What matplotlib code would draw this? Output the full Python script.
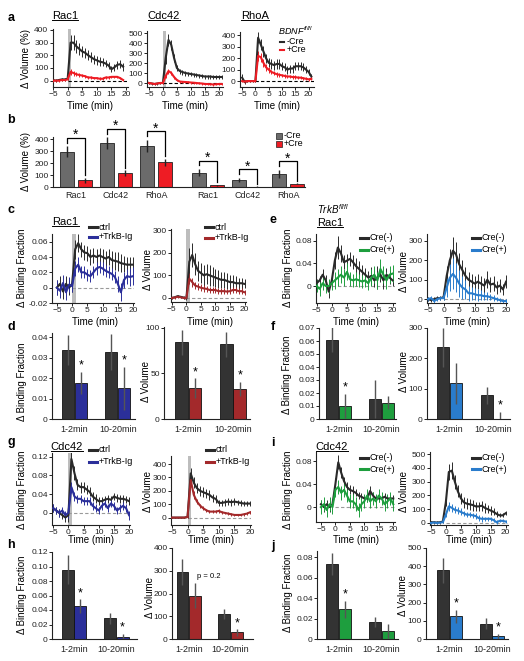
import matplotlib
matplotlib.use('Agg')
import matplotlib.pyplot as plt
from matplotlib.lines import Line2D
from matplotlib.patches import Rectangle
import numpy as np

plt.rcParams['font.family'] = ['Liberation Sans', 'DejaVu Sans']
plt.rcParams['mathtext.fontset'] = 'custom'
plt.rcParams['mathtext.it'] = 'Liberation Sans:italic'
plt.rcParams['mathtext.rm'] = 'Liberation Sans'

# ---------------- data ----------------
t_a1 = list(range(-5, 20))
t_a2 = list(range(-5, 22))
t_all = list(range(-5, 21))

# panel a (BDNF fl/fl, -Cre / +Cre)
a_rac1_neg = [5, 0, 5, 10, 10, 15, 300, 300, 270, 250, 230, 220, 200, 185, 170, 160, 150, 145, 135, 120, 90, 105, 125, 130, 110]
a_rac1_neg_err = [10, 10, 10, 10, 10, 10, 60, 60, 50, 45, 45, 40, 40, 40, 35, 35, 35, 30, 30, 30, 25, 30, 30, 30, 30]
a_rac1_pos = [0, 0, 0, 5, 5, 10, 70, 60, 50, 45, 40, 35, 25, 25, 20, 20, 15, 15, 25, 25, 30, 30, 30, 20, 5]
a_rac1_pos_err = [8, 8, 8, 8, 8, 8, 25, 20, 15, 15, 12, 12, 12, 10, 10, 10, 10, 10, 10, 10, 10, 10, 10, 10, 10]

a_cdc42_neg = [0, -5, -10, -5, 0, 0, 250, 430, 380, 250, 150, 120, 110, 100, 95, 90, 85, 80, 75, 70, 65, 65, 65, 60, 60, 60, 60]
a_cdc42_neg_err = [10, 10, 10, 10, 10, 10, 60, 60, 50, 40, 30, 25, 25, 25, 20, 20, 20, 20, 20, 20, 20, 20, 20, 20, 20, 20, 20]
a_cdc42_pos = [0, -5, -10, -5, 0, 0, 70, 120, 100, 60, 30, 15, 12, 10, 8, 5, 3, 0, -3, -5, -10, -10, -12, -15, -12, -10, -10]
a_cdc42_pos_err = [8, 8, 8, 8, 8, 8, 20, 25, 20, 15, 12, 10, 10, 10, 10, 10, 10, 10, 10, 10, 10, 10, 10, 10, 10, 10, 10]

a_rhoa_neg = [30, -10, 0, 0, 0, 0, 380, 320, 260, 200, 160, 150, 140, 150, 150, 130, 120, 100, 110, 110, 130, 130, 130, 120, 100, 80, 40]
a_rhoa_neg_err = [30, 15, 10, 10, 10, 10, 50, 50, 45, 40, 40, 40, 40, 40, 40, 35, 35, 35, 35, 35, 35, 35, 35, 35, 30, 30, 20]
a_rhoa_pos = [0, -5, 0, 0, 0, 0, 220, 210, 160, 120, 100, 80, 70, 60, 55, 50, 45, 40, 40, 35, 35, 30, 30, 25, 20, 15, 20]
a_rhoa_pos_err = [10, 10, 10, 10, 10, 10, 40, 40, 35, 30, 25, 20, 20, 20, 15, 15, 15, 15, 15, 15, 15, 15, 15, 15, 15, 15, 15]

# panel b
b_labels = ['Rac1', 'Cdc42', 'RhoA', 'Rac1', 'Cdc42', 'RhoA']
b_neg = [295, 365, 345, 120, 60, 110]
b_neg_err = [45, 50, 50, 30, 18, 35]
b_pos = [56, 113, 206, 14, 3, 28]
b_pos_err = [20, 25, 30, 5, 3, 6]

# panel c (Rac1, ctrl / +TrkB-Ig)
c_bind_ctrl = [0, 0.005, -0.005, 0.005, 0, 0.005, 0.05, 0.058, 0.05, 0.046, 0.045, 0.04, 0.042, 0.04, 0.042, 0.04, 0.038, 0.04, 0.036, 0.035, 0.034, 0.032, 0.031, 0.03, 0.03, 0.03]
c_bind_ctrl_err = [0.01, 0.01, 0.01, 0.01, 0.01, 0.01, 0.012, 0.012, 0.01, 0.01, 0.01, 0.01, 0.01, 0.01, 0.01, 0.01, 0.01, 0.01, 0.012, 0.012, 0.012, 0.012, 0.01, 0.01, 0.01, 0.01]
c_bind_trkb = [0, -0.004, 0.006, -0.006, 0.004, 0.002, 0.025, 0.03, 0.02, 0.02, 0.017, 0.015, 0.02, 0.025, 0.027, 0.025, 0.022, 0.02, 0.018, 0.014, 0.005, -0.006, 0.01, 0.015, 0.014, 0.015]
c_bind_trkb_err = [0.01, 0.01, 0.01, 0.01, 0.01, 0.008, 0.01, 0.01, 0.008, 0.008, 0.008, 0.008, 0.008, 0.008, 0.008, 0.008, 0.008, 0.008, 0.008, 0.008, 0.01, 0.012, 0.01, 0.01, 0.012, 0.012]
c_vol_ctrl = [0, 3, 8, 5, 2, -3, 160, 190, 150, 120, 110, 100, 105, 100, 95, 90, 85, 80, 80, 75, 70, 70, 65, 65, 65, 62]
c_vol_ctrl_err = [5, 5, 5, 5, 5, 5, 60, 55, 50, 45, 45, 45, 45, 45, 40, 40, 40, 35, 35, 35, 30, 30, 30, 25, 25, 20]
c_vol_trkb = [0, 2, 5, 3, 0, 0, 85, 70, 55, 50, 45, 42, 40, 35, 35, 35, 30, 30, 30, 28, 30, 35, 35, 30, 30, 25]
c_vol_trkb_err = [5, 5, 5, 5, 5, 5, 25, 20, 15, 15, 15, 15, 12, 12, 12, 12, 12, 12, 12, 12, 12, 12, 12, 12, 12, 12]

# panel d
groups = ['1-2min', '10-20min']
d_bind_ctrl = [0.0336, 0.0326]
d_bind_ctrl_err = [0.0072, 0.0087]
d_bind_trkb = [0.0175, 0.015]
d_bind_trkb_err = [0.0055, 0.0105]
d_bind_sig = [True, True]
d_vol_ctrl = [84, 82]
d_vol_ctrl_err = [14, 14]
d_vol_trkb = [34, 33]
d_vol_trkb_err = [11, 8]
d_vol_sig = [True, True]

# panel e (TrkB fl/fl, Rac1, Cre(-) / Cre(+))
e_bind_neg = [0.005, 0.01, 0.02, 0.01, -0.01, 0.01, 0.045, 0.068, 0.058, 0.042, 0.045, 0.048, 0.042, 0.035, 0.03, 0.025, 0.02, 0.015, 0.018, 0.01, 0.015, 0.02, 0.01, 0.02, 0.015, 0.01]
e_bind_neg_err = [0.008, 0.008, 0.01, 0.01, 0.012, 0.01, 0.015, 0.02, 0.015, 0.012, 0.012, 0.012, 0.012, 0.015, 0.015, 0.012, 0.012, 0.012, 0.015, 0.012, 0.02, 0.012, 0.015, 0.012, 0.012, 0.01]
e_bind_pos = [0, -0.005, 0.005, 0, 0, 0.005, 0.01, 0.015, 0.02, 0.015, 0.025, 0.012, 0.01, 0.012, 0.01, 0.008, 0.01, 0.005, 0.015, 0.02, 0.01, 0.03, 0.02, 0.01, 0.02, 0.022]
e_bind_pos_err = [0.01, 0.012, 0.012, 0.012, 0.012, 0.012, 0.015, 0.015, 0.015, 0.015, 0.015, 0.012, 0.012, 0.012, 0.012, 0.012, 0.012, 0.012, 0.015, 0.015, 0.015, 0.018, 0.015, 0.015, 0.015, 0.015]
e_vol_neg = [0, -5, 0, 5, 5, 10, 120, 200, 250, 230, 180, 150, 120, 100, 90, 80, 90, 80, 70, 100, 75, 80, 60, 70, 50, 90]
e_vol_neg_err = [10, 10, 10, 10, 10, 15, 50, 60, 70, 65, 60, 50, 45, 40, 40, 40, 40, 40, 40, 45, 40, 40, 35, 35, 30, 35]
e_vol_pos = [0, 5, -10, 0, 5, 5, 60, 110, 130, 110, 80, 60, 50, 30, 30, 25, 20, 20, 15, 15, 10, 5, 0, -5, -10, -10]
e_vol_pos_err = [10, 10, 10, 10, 10, 10, 50, 70, 80, 75, 70, 60, 50, 40, 35, 30, 30, 25, 20, 20, 15, 15, 10, 10, 10, 10]

# panel f
f_bind_neg = [0.061, 0.0152]
f_bind_neg_err = [0.0095, 0.0148]
f_bind_pos = [0.0102, 0.0126]
f_bind_pos_err = [0.0092, 0.0052]
f_bind_sig = [True, False]
f_vol_neg = [236, 78]
f_vol_neg_err = [63, 29]
f_vol_pos = [118, 0]
f_vol_pos_err = [68, 24]
f_vol_sig = [False, True]

# panel g (Cdc42, ctrl / +TrkB-Ig)
g_bind_ctrl = [0.01, 0.005, 0.0, -0.005, -0.01, -0.005, 0.115, 0.085, 0.06, 0.055, 0.055, 0.05, 0.045, 0.035, 0.03, 0.025, 0.025, 0.028, 0.03, 0.028, 0.035, 0.032, 0.03, 0.03, 0.028, 0.025]
g_bind_ctrl_err = [0.008, 0.008, 0.008, 0.008, 0.01, 0.015, 0.02, 0.015, 0.012, 0.012, 0.01, 0.01, 0.01, 0.01, 0.01, 0.008, 0.008, 0.008, 0.008, 0.008, 0.008, 0.008, 0.008, 0.008, 0.008, 0.008]
g_bind_trkb = [0.01, 0.005, 0.0, 0.005, -0.005, 0.0, 0.055, 0.035, 0.03, 0.03, 0.025, 0.025, 0.025, 0.015, 0.01, 0.005, 0.015, 0.02, 0.01, 0.02, 0.015, 0.005, 0.01, 0.015, 0.01, -0.005]
g_bind_trkb_err = [0.008, 0.008, 0.008, 0.008, 0.008, 0.01, 0.012, 0.01, 0.008, 0.008, 0.008, 0.008, 0.008, 0.008, 0.008, 0.008, 0.008, 0.008, 0.008, 0.008, 0.008, 0.008, 0.008, 0.008, 0.008, 0.01]
g_vol_ctrl = [0, 0, 0, 0, 0, 5, 330, 260, 220, 200, 190, 180, 170, 150, 140, 110, 110, 115, 120, 115, 120, 115, 110, 105, 105, 105]
g_vol_ctrl_err = [5, 5, 5, 5, 5, 10, 40, 40, 35, 35, 35, 35, 35, 30, 30, 25, 25, 25, 25, 25, 25, 20, 20, 20, 20, 20]
g_vol_trkb = [0, 0, 0, 0, 0, 5, 280, 170, 120, 90, 70, 55, 45, 45, 45, 50, 40, 35, 30, 25, 20, 20, 20, 25, 30, 40]
g_vol_trkb_err = [5, 5, 5, 5, 5, 10, 40, 30, 20, 15, 15, 12, 12, 12, 12, 12, 12, 10, 10, 10, 10, 10, 10, 10, 10, 10]

# panel h
h_bind_ctrl = [0.0957, 0.0283]
h_bind_ctrl_err = [0.0195, 0.0075]
h_bind_trkb = [0.045, 0.003]
h_bind_trkb_err = [0.0095, 0.004]
h_bind_sig = [True, True]
h_vol_ctrl = [294, 109]
h_vol_ctrl_err = [56, 23]
h_vol_trkb = [190, 29]
h_vol_trkb_err = [54, 15]
h_vol_sig = [False, True]

# panel i (Cdc42, Cre(-) / Cre(+))
i_bind_neg = [0.005, 0.0, 0.005, 0.0, 0.005, 0.04, 0.078, 0.06, 0.045, 0.035, 0.03, 0.028, 0.025, 0.02, 0.018, 0.015, 0.015, 0.028, 0.02, 0.015, 0.015, 0.015, 0.018, 0.015, 0.015, 0.015]
i_bind_neg_err = [0.008, 0.008, 0.008, 0.008, 0.008, 0.01, 0.012, 0.01, 0.008, 0.008, 0.008, 0.008, 0.006, 0.006, 0.006, 0.006, 0.006, 0.008, 0.006, 0.006, 0.006, 0.006, 0.006, 0.006, 0.006, 0.006]
i_bind_pos = [0.0, 0.005, -0.005, 0.005, 0.0, 0.03, 0.035, 0.025, 0.03, 0.02, 0.01, 0.01, 0.005, -0.005, 0.005, 0.01, 0.02, 0.01, 0.015, 0.01, 0.02, 0.015, 0.005, 0.01, 0.015, 0.005]
i_bind_pos_err = [0.012, 0.012, 0.012, 0.012, 0.012, 0.012, 0.012, 0.012, 0.012, 0.012, 0.012, 0.012, 0.012, 0.012, 0.012, 0.012, 0.012, 0.012, 0.012, 0.012, 0.012, 0.012, 0.012, 0.012, 0.012, 0.012]
i_vol_neg = [5, 5, 3, 5, 10, 150, 370, 380, 300, 230, 180, 150, 140, 135, 130, 120, 120, 125, 110, 100, 90, 80, 65, 55, 55, 70]
i_vol_neg_err = [10, 10, 10, 10, 10, 30, 60, 60, 50, 45, 40, 40, 40, 40, 40, 35, 35, 35, 35, 30, 30, 25, 20, 15, 15, 15]
i_vol_pos = [0, 3, 0, 2, 5, 60, 120, 110, 95, 90, 80, 70, 60, 60, 55, 50, 35, 30, 30, 30, 30, 20, 5, 15, 15, 10]
i_vol_pos_err = [5, 5, 5, 5, 5, 20, 30, 30, 25, 25, 25, 20, 20, 20, 20, 20, 20, 20, 15, 15, 15, 15, 15, 10, 10, 10]

# panel j
j_bind_neg = [0.0731, 0.0164]
j_bind_neg_err = [0.0108, 0.0049]
j_bind_pos = [0.029, 0.0075]
j_bind_pos_err = [0.0085, 0.0075]
j_bind_sig = [True, False]
j_vol_neg = [378, 83]
j_vol_neg_err = [68, 30]
j_vol_pos = [125, 15]
j_vol_pos_err = [35, 15]
j_vol_sig = [True, True]

# ---------------- colours ----------------
BLACK = '#2a2a2a'
RED = '#ee1c24'
NAVY = '#2b2f9a'
DARKRED = '#a3292b'
GREEN = '#1e9e3e'
BLUE = '#2a7ccc'
BAR_BLACK = '#333333'

W, H = 524, 661
fig = plt.figure(figsize=(W / 100, H / 100), dpi=100)


def px_axes(l, t, r, b):
    return fig.add_axes([l / W, 1 - b / H, (r - l) / W, (b - t) / H])


def ftext(x, y, s, **kw):
    kw.setdefault('ha', 'center')
    kw.setdefault('va', 'center')
    return fig.text(x / W, 1 - y / H, s, **kw)


def fline(x0, x1, y, color, lw=2.2):
    fig.add_artist(Line2D([x0 / W, x1 / W], [1 - y / H, 1 - y / H],
                          transform=fig.transFigure, color=color, lw=lw))


def style(ax):
    for s in ['top', 'right']:
        ax.spines[s].set_visible(False)
    for s in ['left', 'bottom']:
        ax.spines[s].set_linewidth(0.8)
        ax.spines[s].set_color('#222222')
    ax.tick_params(labelsize=6, length=2, width=0.7, pad=1, colors='#222222')
    ax.patch.set_alpha(0)


def ts_axes(box, xlim, ylim, yticks, yticklabels=None):
    ax = px_axes(*box)
    ax.set_xlim(xlim)
    ax.set_ylim(ylim)
    ax.set_xticks([-5, 0, 5, 10, 15, 20])
    ax.set_yticks(yticks)
    if yticklabels is not None:
        ax.set_yticklabels(yticklabels)
    style(ax)
    return ax


def trace(ax, t, y, e, color, z=3):
    ax.errorbar(t, y, yerr=e, color=color, lw=1.5, elinewidth=0.7, capsize=0, zorder=z)


def zero_line(ax, color='#999999'):
    ax.plot([0, ax.get_xlim()[1]], [0, 0], ls=(0, (3, 2)), color=color, lw=0.8, zorder=1)


def stim_bar(ax, x0=0, x1=1.1):
    ax.axvspan(x0, x1, color='#bdbdbd', lw=0, zorder=0)


def bar_panel(box, c0, step, ylim, yticks, yticklabels, ctrl, ctrl_err, trt, trt_err, color, sig):
    l, t, r, b = box
    ax = px_axes(*box)
    pos = np.arange(len(groups))
    w = 0.28
    ax.bar(pos - 0.15, ctrl, w, color=BAR_BLACK, edgecolor='#111111', lw=0.6, zorder=2)
    ax.bar(pos + 0.15, trt, w, color=color, edgecolor='#111111', lw=0.6, zorder=2)
    ax.errorbar(pos - 0.15, ctrl, yerr=ctrl_err, fmt='none', ecolor='#555555', elinewidth=1, capsize=0, zorder=3)
    ax.errorbar(pos + 0.15, trt, yerr=trt_err, fmt='none', ecolor='#555555', elinewidth=1, capsize=0, zorder=3)
    for p, v, e, s in zip(pos, trt, trt_err, sig):
        if s:
            ax.annotate('*', (p + 0.15, v + e), xytext=(0, 0), textcoords='offset points',
                        ha='center', va='bottom', fontsize=9, annotation_clip=False)
    ax.set_xlim((l - c0) / step, (r - c0) / step)
    ax.set_ylim(ylim)
    ax.set_yticks(yticks)
    ax.set_yticklabels(yticklabels)
    ax.set_xticks(pos)
    ax.set_xticklabels(groups)
    style(ax)
    ax.tick_params(axis='x', length=0, labelsize=6.5, pad=4)
    return ax


def legend2(x0, y0, y1, labels, colors, fs=6.5):
    fline(x0, x0 + 8, y0, colors[0])
    fline(x0, x0 + 8, y1, colors[1])
    ftext(x0 + 10, y0, labels[0], ha='left', fontsize=fs)
    ftext(x0 + 10, y1, labels[1], ha='left', fontsize=fs)


titles = []

# ---------------- panel a ----------------
ax = ts_axes((52.5, 28.7, 127.5, 87), (-5.2, 20.5), (-50, 410), [0, 100, 200, 300, 400])
stim_bar(ax, 0, 1.1)
zero_line(ax, 'k')
trace(ax, t_a1, a_rac1_neg, a_rac1_neg_err, BLACK)
trace(ax, t_a1, a_rac1_pos, a_rac1_pos_err, RED)

ax = ts_axes((146.7, 31, 222.7, 87), (-5.8, 21.4), (-40, 520), [0, 100, 200, 300, 400, 500])
stim_bar(ax, 0, 1.1)
zero_line(ax, 'k')
trace(ax, t_a2, a_cdc42_neg, a_cdc42_neg_err, BLACK)
trace(ax, t_a2, a_cdc42_pos, a_cdc42_pos_err, RED)

ax = ts_axes((240, 32, 314, 87), (-5.8, 22), (-52, 430), [0, 100, 200, 300, 400])
zero_line(ax, 'k')
trace(ax, t_a2, a_rhoa_neg, a_rhoa_neg_err, BLACK)
trace(ax, t_a2, a_rhoa_pos, a_rhoa_pos_err, RED)

for x in [90, 185, 277]:
    ftext(x, 106, 'Time (min)', fontsize=7)
titles.append(ftext(65, 16, 'Rac1', fontsize=8))
titles.append(ftext(164, 16, 'Cdc42', fontsize=8))
titles.append(ftext(255, 16, 'RhoA', fontsize=8))
ftext(26, 58, 'Δ Volume (%)', rotation=90, fontsize=7)
ftext(278, 31, r'$BDNF^{fl/fl}$', ha='left', fontsize=6.5)
fline(280, 284, 42, BLACK, lw=1.5)
fline(280, 284, 50, RED, lw=1.5)
ftext(287, 42, '-Cre', ha='left', fontsize=6.5)
ftext(287, 50, '+Cre', ha='left', fontsize=6.5)

# ---------------- panel b ----------------
ax = px_axes(53, 136.6, 305, 187)
bpos = np.array([0, 1, 2, 3.3, 4.3, 5.3])
ax.bar(bpos - 0.225, b_neg, 0.36, color='#6b6b6b', edgecolor='#222222', lw=0.6, zorder=2)
ax.bar(bpos + 0.225, b_pos, 0.36, color=RED, edgecolor='#222222', lw=0.6, zorder=2)
ax.errorbar(bpos - 0.225, b_neg, yerr=b_neg_err, fmt='none', ecolor='#222222', elinewidth=1, capsize=0, zorder=3)
ax.errorbar(bpos + 0.225, b_pos, yerr=b_pos_err, fmt='none', ecolor='#222222', elinewidth=1, capsize=0, zorder=3)
for p, n, ne, c, ce in zip(bpos, b_neg, b_neg_err, b_pos, b_pos_err):
    top = n + ne + 70
    ax.plot([p - 0.225, p - 0.225, p + 0.225, p + 0.225], [n + ne + 30, top, top, c + ce + 20],
            color='k', lw=0.9, clip_on=False, zorder=4)
    ax.annotate('*', (p, top), xytext=(0, -3), textcoords='offset points',
                ha='center', va='bottom', fontsize=10, annotation_clip=False)
ax.set_xlim(-0.575, 5.725)
ax.set_ylim(0, 420)
ax.set_yticks([0, 100, 200, 300, 400])
ax.set_xticks(bpos)
ax.set_xticklabels(b_labels)
style(ax)
ax.tick_params(axis='x', length=0, labelsize=6.5, pad=3)
ftext(26, 162, 'Δ Volume (%)', rotation=90, fontsize=7)
fig.add_artist(Rectangle((276 / W, 1 - 139 / H), 6 / W, 6 / H, transform=fig.transFigure,
                         facecolor='#6b6b6b', edgecolor='#222222', lw=0.5))
fig.add_artist(Rectangle((276 / W, 1 - 147 / H), 6 / W, 6 / H, transform=fig.transFigure,
                         facecolor=RED, edgecolor='#222222', lw=0.5))
ftext(284, 136, '-Cre', ha='left', fontsize=6.5)
ftext(284, 144, '+Cre', ha='left', fontsize=6.5)

# ---------------- panel c ----------------
ax = ts_axes((52, 234, 134, 303), (-6.6, 20.3), (-0.02, 0.07), [-0.02, 0, 0.02, 0.04, 0.06],
             ['-0.02', '0', '0.02', '0.04', '0.06'])
stim_bar(ax, 0, 1.2)
zero_line(ax)
trace(ax, t_all, c_bind_ctrl, c_bind_ctrl_err, BLACK)
trace(ax, t_all, c_bind_trkb, c_bind_trkb_err, NAVY)

ax = ts_axes((171, 229, 246, 302), (-5.3, 20.5), (-18, 305), [0, 100, 200, 300])
stim_bar(ax, 0, 1.3)
zero_line(ax)
trace(ax, t_all, c_vol_ctrl, c_vol_ctrl_err, BLACK)
trace(ax, t_all, c_vol_trkb, c_vol_trkb_err, DARKRED)

titles.append(ftext(65.5, 222, 'Rac1', fontsize=8))
legend2(89, 227, 237, ['ctrl', '+TrkB-Ig'], [BLACK, NAVY])
legend2(205, 227, 238, ['ctrl', '+TrkB-Ig'], [BLACK, DARKRED])
ftext(22, 268, 'Δ Binding Fraction', rotation=90, fontsize=7)
ftext(148, 270, 'Δ Volume', rotation=90, fontsize=7)
ftext(95, 322, 'Time (min)', fontsize=7)
ftext(210, 322, 'Time (min)', fontsize=7)

# ---------------- panel e ----------------
ax = ts_axes((316, 234, 395, 303), (-5.2, 20.8), (-0.03, 0.092), [0, 0.04, 0.08], ['0', '0.04', '0.08'])
zero_line(ax)
trace(ax, t_all, e_bind_neg, e_bind_neg_err, BLACK)
trace(ax, t_all, e_bind_pos, e_bind_pos_err, GREEN)

ax = ts_axes((427, 234, 507, 303), (-5.3, 20.3), (-20, 336), [0, 100, 200, 300])
zero_line(ax)
trace(ax, t_all, e_vol_neg, e_vol_neg_err, BLACK)
trace(ax, t_all, e_vol_pos, e_vol_pos_err, BLUE)

ftext(317, 209, r'$TrkB^{fl/fl}$', ha='left', fontsize=7)
titles.append(ftext(330, 223, 'Rac1', fontsize=8))
legend2(360, 238, 250, ['Cre(-)', 'Cre(+)'], [BLACK, GREEN])
legend2(472, 238, 250, ['Cre(-)', 'Cre(+)'], [BLACK, BLUE])
ftext(288, 268, 'Δ Binding Fraction', rotation=90, fontsize=7)
ftext(404, 272, 'Δ Volume', rotation=90, fontsize=7)
ftext(356, 322, 'Time (min)', fontsize=7)
ftext(467, 322, 'Time (min)', fontsize=7)

# ---------------- panel d ----------------
bar_panel((52, 333, 135, 419), 74.25, 43.5, (0, 0.042), [0, 0.01, 0.02, 0.03, 0.04],
          ['0', '0.01', '0.02', '0.03', '0.04'],
          d_bind_ctrl, d_bind_ctrl_err, d_bind_trkb, d_bind_trkb_err, NAVY, d_bind_sig)
bar_panel((164, 327, 250, 419), 188.25, 44.75, (0, 101), [0, 50, 100], ['0', '50', '100'],
          d_vol_ctrl, d_vol_ctrl_err, d_vol_trkb, d_vol_trkb_err, DARKRED, d_vol_sig)
ftext(22, 382, 'Δ Binding Fraction', rotation=90, fontsize=7)
ftext(146, 382, 'Δ Volume', rotation=90, fontsize=7)

# ---------------- panel f ----------------
bar_panel((319, 328, 396, 419), 338.75, 42.75, (0, 0.07), [0, 0.01, 0.02, 0.03, 0.04, 0.05, 0.06, 0.07],
          ['0', '0.01', '0.02', '0.03', '0.04', '0.05', '0.06', '0.07'],
          f_bind_neg, f_bind_neg_err, f_bind_pos, f_bind_pos_err, GREEN, f_bind_sig)
bar_panel((427, 328, 510, 419), 449.5, 44, (0, 300), [0, 100, 200, 300], ['0', '100', '200', '300'],
          f_vol_neg, f_vol_neg_err, f_vol_pos, f_vol_pos_err, BLUE, f_vol_sig)
ftext(287, 375, 'Δ Binding Fraction', rotation=90, fontsize=7)
ftext(404, 372, 'Δ Volume', rotation=90, fontsize=7)

# ---------------- panel g ----------------
ax = ts_axes((52, 453, 130, 525), (-5.4, 20.3), (-0.026, 0.128), [0, 0.04, 0.08, 0.12],
             ['0', '0.04', '0.08', '0.12'])
stim_bar(ax, 0, 1.1)
zero_line(ax)
trace(ax, t_all, g_bind_ctrl, g_bind_ctrl_err, BLACK)
trace(ax, t_all, g_bind_trkb, g_bind_trkb_err, NAVY)

ax = ts_axes((171, 456, 251, 525), (-5.3, 20.3), (-55, 460), [0, 100, 200, 300, 400])
stim_bar(ax, 0, 1.1)
zero_line(ax)
trace(ax, t_all, g_vol_ctrl, g_vol_ctrl_err, BLACK)
trace(ax, t_all, g_vol_trkb, g_vol_trkb_err, DARKRED)

titles.append(ftext(67, 447, 'Cdc42', fontsize=8))
legend2(89, 450, 462, ['ctrl', '+TrkB-Ig'], [BLACK, NAVY])
legend2(206, 450, 462, ['ctrl', '+TrkB-Ig'], [BLACK, DARKRED])
ftext(22, 490, 'Δ Binding Fraction', rotation=90, fontsize=7)
ftext(148, 492, 'Δ Volume', rotation=90, fontsize=7)
ftext(91, 540, 'Time (min)', fontsize=7)
ftext(211, 540, 'Time (min)', fontsize=7)

# ---------------- panel i ----------------
ax = ts_axes((316, 452, 395, 522), (-6.7, 20.6), (-0.026, 0.096), [0, 0.04, 0.08], ['0', '0.04', '0.08'])
zero_line(ax)
trace(ax, t_all, i_bind_neg, i_bind_neg_err, BLACK)
trace(ax, t_all, i_bind_pos, i_bind_pos_err, GREEN)

ax = ts_axes((430, 452, 508, 525), (-5.3, 20.8), (-15, 515), [0, 100, 200, 300, 400, 500])
zero_line(ax)
trace(ax, t_all, i_vol_neg, i_vol_neg_err, BLACK)
trace(ax, t_all, i_vol_pos, i_vol_pos_err, BLUE)

titles.append(ftext(332, 447, 'Cdc42', fontsize=8))
legend2(360, 458, 469, ['Cre(-)', 'Cre(+)'], [BLACK, GREEN])
legend2(472, 458, 469, ['Cre(-)', 'Cre(+)'], [BLACK, BLUE])
ftext(288, 490, 'Δ Binding Fraction', rotation=90, fontsize=7)
ftext(404, 492, 'Δ Volume', rotation=90, fontsize=7)
ftext(356, 540, 'Time (min)', fontsize=7)
ftext(469, 540, 'Time (min)', fontsize=7)

# ---------------- panel h ----------------
bar_panel((52, 552, 137, 639), 74, 42.25, (0, 0.12), [0, 0.02, 0.04, 0.06, 0.08, 0.10, 0.12],
          ['0', '0.02', '0.04', '0.06', '0.08', '0.10', '0.12'],
          h_bind_ctrl, h_bind_ctrl_err, h_bind_trkb, h_bind_trkb_err, NAVY, h_bind_sig)
bar_panel((172, 548, 253, 639), 188.75, 41.75, (0, 400), [0, 100, 200, 300, 400],
          ['0', '100', '200', '300', '400'],
          h_vol_ctrl, h_vol_ctrl_err, h_vol_trkb, h_vol_trkb_err, DARKRED, h_vol_sig)
ftext(22, 595, 'Δ Binding Fraction', rotation=90, fontsize=7)
ftext(150, 598, 'Δ Volume', rotation=90, fontsize=7)
ftext(209, 576, 'p = 0.2', fontsize=5.5)

# ---------------- panel j ----------------
bar_panel((317, 551, 398, 639), 338.75, 42.75, (0, 0.086), [0, 0.02, 0.04, 0.06, 0.08],
          ['0', '0.02', '0.04', '0.06', '0.08'],
          j_bind_neg, j_bind_neg_err, j_bind_pos, j_bind_pos_err, GREEN, j_bind_sig)
bar_panel((426, 548, 508, 639), 449.5, 42.5, (0, 500), [0, 100, 200, 300, 400, 500],
          ['0', '100', '200', '300', '400', '500'],
          j_vol_neg, j_vol_neg_err, j_vol_pos, j_vol_pos_err, BLUE, j_vol_sig)
ftext(288, 593, 'Δ Binding Fraction', rotation=90, fontsize=7)
ftext(403, 596, 'Δ Volume', rotation=90, fontsize=7)

# ---------------- panel letters ----------------
for letter, x, y in [('a', 11, 18), ('b', 11, 120), ('c', 11, 210), ('d', 11, 327), ('e', 273, 220),
                     ('f', 273, 327), ('g', 11, 442), ('h', 11, 545), ('i', 273, 443), ('j', 273, 546)]:
    ftext(x, y, letter, fontsize=9, fontweight='bold')

# underline the protein titles
fig.canvas.draw()
rend = fig.canvas.get_renderer()
for t in titles:
    bb = t.get_window_extent(rend)
    fig.add_artist(Line2D([bb.x0 / W, bb.x1 / W], [(bb.y0 + 1) / H] * 2,
                          transform=fig.transFigure, color='k', lw=0.7))

fig.savefig('out.png', dpi=100)
